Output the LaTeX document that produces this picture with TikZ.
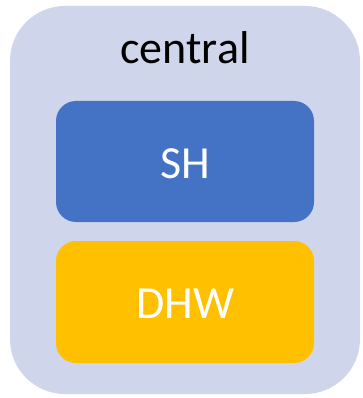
\documentclass[tikz,border=0pt]{standalone}
\usepackage{fontspec}
\setmainfont{Carlito}
\definecolor{outerfill}{HTML}{CFD5EA}
\definecolor{shblue}{HTML}{4472C4}
\definecolor{dhwgold}{HTML}{FFC000}
\begin{document}
\begin{tikzpicture}[x=1pt,y=-1pt,
  inner/.style={rounded corners=20pt, draw=none},
  lbl/.style={font=\fontsize{46}{50}\selectfont, inner sep=0pt}]
\useasboundingbox (0,0) rectangle (362,398);
\fill[outerfill, rounded corners=55pt] (10,6) rectangle (360,394);
\node[lbl, text=black, anchor=base] (central) at (185,64) {central};
\fill[shblue, inner] (56,101) rectangle (314,222);
\node[lbl, text=white, anchor=base] (sh) at (185,178) {SH};
\fill[dhwgold, inner] (56,241) rectangle (314,363);
\node[lbl, text=white, anchor=base] (dhw) at (185,318) {DHW};
\end{tikzpicture}
\end{document}
